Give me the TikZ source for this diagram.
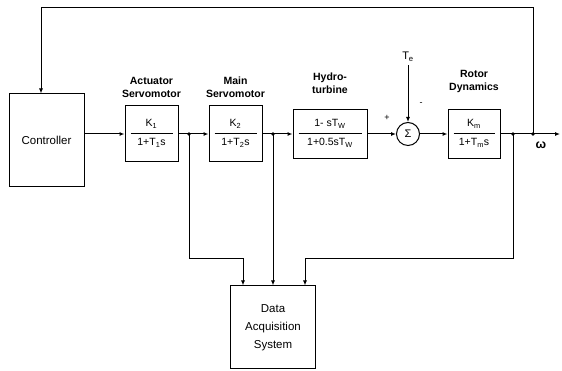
\documentclass[tikz,border=0pt]{standalone}
\usepackage{fontspec}
\setmainfont{Liberation Sans}
\usetikzlibrary{arrows.meta}
\tikzset{
  ln/.style={line width=1pt},
  sig/.style={line width=1pt,-{Latex[length=5pt,width=4pt]}},
  blk/.style={draw,line width=1pt,inner sep=0pt},
  frac/.style={inner sep=0pt,font=\fontsize{10.5}{12}\selectfont},
  ttl/.style={align=center,font=\fontsize{10.5}{13}\selectfont\bfseries},
  jdot/.style={circle,fill,inner sep=0pt,minimum size=3.8pt},
}
\begin{document}
\begin{tikzpicture}[x=1pt,y=1pt]
\useasboundingbox (0,0) rectangle (562,371);
% controller and data acquisition
\node[blk,minimum width=75pt,minimum height=93pt,font=\fontsize{11.5}{14}\selectfont] (ctrl) at (46.5,230.5) {Controller};
\node[blk,minimum width=85pt,minimum height=83pt,align=center,font=\fontsize{11.5}{18}\selectfont] (das) at (273,43.5) {Data\\Acquisition\\System};
% transfer function blocks
\foreach \n/\x/\w/\h/\num/\den in {act/151.5/53/56/{K\textsubscript{1}}/{1+T\textsubscript{1}s},
  msv/235.5/53/56/{K\textsubscript{2}}/{1+T\textsubscript{2}s},
  hyd/330/74/49/{1- sT\textsubscript{W}}/{1+0.5sT\textsubscript{W}},
  rot/474/52/49/{K\textsubscript{m}}/{1+T\textsubscript{m}s}}{
  \node[blk,minimum width=\w pt,minimum height=\h pt] (\n) at (\x,237) {};
  \draw[ln] ([xshift=6pt]\n.west) -- ([xshift=-6pt]\n.east);
  \node[frac] (\n-num) at ([yshift=10pt]\n.center) {\num};
  \node[frac] (\n-den) at ([yshift=-9pt]\n.center) {\den};
}
\node[ttl] (act-t) at (151.5,284) {Actuator\\Servomotor};
\node[ttl] (msv-t) at (235.5,284) {Main\\Servomotor};
\node[ttl] (hyd-t) at (330,288) {Hydro-\\turbine};
\node[ttl] (rot-t) at (474,289.5) {Rotor\\Dynamics};
% summing junction
\node[draw,ln,circle,minimum size=23pt,inner sep=0pt,font=\fontsize{11}{13}\selectfont] (sum) at (408,237) {Σ};
\node[font=\fontsize{11}{13}\selectfont] (te) at (408,314) {T\textsubscript{e}};
\node[font=\small] (plus) at (387,253) {+};
\node[font=\small] (minus) at (421,267) {-};
% junctions
\coordinate (j1) at (189,237); \coordinate (j2) at (273,237);
\coordinate (j3) at (513,237); \coordinate (j4) at (533,237);
\coordinate (out) at (560,237); \coordinate (fb) at (41,363); \coordinate (lowbus) at (0,112);
% signal path
\draw[sig] (ctrl.east |- act.west) -- (act.west);
\draw[sig] (act.east) -- (msv.west);
\draw[sig] (msv.east) -- (hyd.west);
\draw[sig] (hyd.east) -- (sum.west);
\draw[sig] (sum.east) -- (rot.west);
\draw[sig] (rot.east) -- (out);
\draw[sig] (te) -- (sum.north);
\node[font=\fontsize{12.5}{14}\selectfont\bfseries] (w) at (541,226) {ω};
% feedback and measurement
\draw[sig] (j4) |- (fb) -- (fb |- ctrl.north);
\draw[sig] (j1) -- (j1 |- lowbus) -| ([xshift=-30pt]das.north);
\draw[sig] (j2) -- (das.north);
\draw[sig] (j3) -- (j3 |- lowbus) -| ([xshift=32pt]das.north);
\foreach \j in {j1,j2,j3,j4}{\node[jdot] at (\j) {};}
\end{tikzpicture}
\end{document}
